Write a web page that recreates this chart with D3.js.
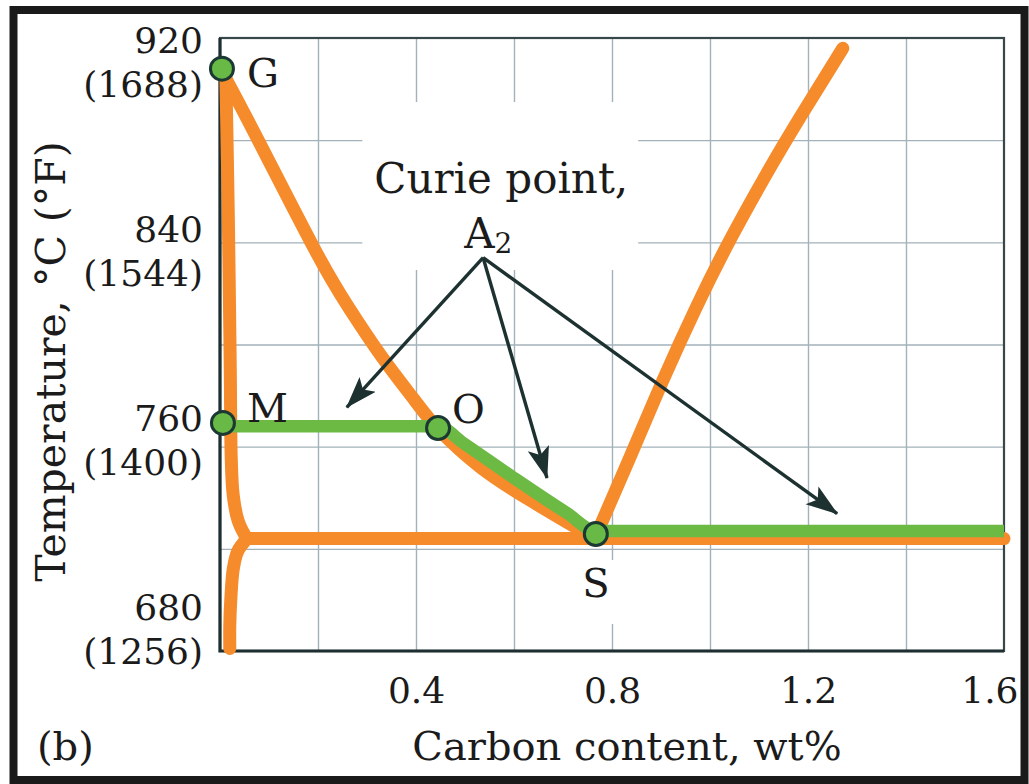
<!DOCTYPE html>
<html>
<head>
<meta charset="utf-8">
<script src="https://cdn.jsdelivr.net/npm/d3@7"></script>
<style>
  body { margin: 0; background: #fff; }
  svg { display: block; font-family: "DejaVu Serif", serif; }
  .grid line { stroke: #a3b2ba; stroke-width: 1.4; }
  .grid path { display: none; }
  .x-labels path, .x-labels line { display: none; }
</style>
</head>
<body>
<svg id="chart"></svg>
<script>
// grid values
const carbonGrid = [0.2, 0.4, 0.6, 0.8, 1.0, 1.2, 1.4];
const tempGrid = [880, 840, 800, 760, 720];
const carbonTicks = [0.4, 0.8, 1.2, 1.6];
const tempTicksC = [920, 840, 760, 680];
const tempTicksF = ['(1688)', '(1544)', '(1400)', '(1256)'];

// phase boundaries, [wt% C, temp °C]
const gsLine = [[0.004, 907], [0.078, 880], [0.194, 837], [0.261, 815], [0.331, 795],
  [0.398, 778], [0.445, 767], [0.531, 752], [0.633, 739], [0.735, 727.5], [0.767, 725]];
const gpLine = [[0.012, 905], [0.017, 850], [0.021, 790], [0.023, 755], [0.027, 741], [0.037, 731], [0.055, 724]];
const pqLine = [[0.055, 724], [0.036, 719], [0.027, 712], [0.022, 700], [0.02, 690], [0.02, 681]];
const eutectoidLine = [[0.055, 724], [1.6, 724]];
const seLine = [[0.767, 725], [0.837, 756], [0.904, 786], [0.973, 815], [1.041, 841], [1.116, 867], [1.184, 889], [1.271, 916]];
const curieLine = [[0, 768], [0.445, 768], [0.496, 761.5], [0.598, 748], [0.708, 734], [0.767, 727], [1.6, 727]];

const pointNames = ['G', 'M', 'O', 'S'];
const pointCarbon = [0.004, 0.006, 0.445, 0.767];
const pointTemp = [908, 769.3, 767.3, 725.8];

// Curie point annotation
const curieText = ['Curie point,', 'A'];
const curieAnchor = [0.574, 859.3];
const arrowStart = [0.537, 834];
const arrowTips = [[0.245, 772.5], [0.673, 744], [1.276, 731.5]];

class PhaseDiagram {

    constructor(_config) {
        this.config = {
            parentElement: _config.parentElement,
            containerWidth: _config.containerWidth || 1029,
            containerHeight: _config.containerHeight || 784,
            margin: {top: 38, right: 25, bottom: 133, left: 220}
        }
        this.initVis();
    }

    initVis() {
        let vis = this;

        vis.width = vis.config.containerWidth - vis.config.margin.left - vis.config.margin.right;
        vis.height = vis.config.containerHeight - vis.config.margin.top - vis.config.margin.bottom;

        vis.svg = d3.select(vis.config.parentElement)
            .attr('width', vis.config.containerWidth)
            .attr('height', vis.config.containerHeight);

        // outer black frame
        vis.svg.append('rect')
            .attr('x', 13.5).attr('y', 10)
            .attr('width', vis.config.containerWidth - 18)
            .attr('height', vis.config.containerHeight - 14)
            .attr('fill', '#fff')
            .attr('stroke', '#1a1a1a')
            .attr('stroke-width', 8);

        vis.chart = vis.svg.append('g')
            .attr('transform', `translate(${vis.config.margin.left}, ${vis.config.margin.top})`);

        // layers so backings sit between grid and marks
        vis.gridLayer = vis.chart.append('g');
        vis.backLayer = vis.chart.append('g');
        vis.markLayer = vis.chart.append('g');
        vis.topLayer = vis.chart.append('g');

        vis.xScale = d3.scaleLinear().domain([0, 1.6]).range([0, vis.width]);
        vis.yScale = d3.scaleLinear().domain([680, 920]).range([vis.height, 0]);
        // the two-line temperature labels are spread a bit differently than the grid
        vis.labelScale = d3.scaleLinear().domain([920, 680]).range([15, vis.height - 31]);

        vis.renderVis();
    }

    renderVis() {
        let vis = this;

        // grid
        vis.gridLayer.append('g')
            .attr('class', 'grid')
            .attr('transform', `translate(0,${vis.height})`)
            .call(d3.axisBottom(vis.xScale).tickValues(carbonGrid).tickSize(-vis.height).tickFormat(''));
        vis.gridLayer.append('g')
            .attr('class', 'grid')
            .call(d3.axisLeft(vis.yScale).tickValues(tempGrid).tickSize(-vis.width).tickFormat(''));

        // plot frame
        vis.backLayer.append('rect')
            .attr('width', vis.width).attr('height', vis.height)
            .attr('fill', 'none').attr('stroke', '#37474a').attr('stroke-width', 2.2);
        vis.backLayer.append('path')
            .attr('d', `M0,0V${vis.height}H${vis.width}`)
            .attr('fill', 'none').attr('stroke', '#1d2f30').attr('stroke-width', 3.2);

        // x tick labels
        let xl = vis.chart.append('g')
            .attr('class', 'x-labels')
            .attr('transform', `translate(0,${vis.height})`)
            .call(d3.axisBottom(vis.xScale).tickValues(carbonTicks).tickSize(0).tickPadding(24).tickFormat(d3.format('.1f')));
        xl.selectAll('text')
            .attr('font-family', '"DejaVu Serif", serif')
            .attr('font-size', 36)
            .attr('fill', '#1b1b1b')
            .attr('dy', '0.78em');
        xl.selectAll('.tick').filter(d => d === 1.6).select('text')
            .attr('text-anchor', 'end')
            .attr('x', 14);

        // y tick labels, °C over (°F)
        let yl = vis.chart.append('g').attr('class', 'y-labels');
        tempTicksC.forEach((t, i) => {
            let g = yl.append('text')
                .attr('text-anchor', 'end')
                .attr('font-size', 36)
                .attr('fill', '#1b1b1b');
            g.append('tspan').attr('x', -17).attr('y', vis.labelScale(t)).text(t);
            g.append('tspan').attr('x', -17).attr('y', vis.labelScale(t) + 44).text(tempTicksF[i]);
        });

        // axis titles
        vis.chart.append('text')
            .attr('transform', `translate(-155,${vis.height / 2 + 17}) rotate(-90)`)
            .attr('text-anchor', 'middle')
            .attr('font-size', 41)
            .attr('fill', '#1b1b1b')
            .text('Temperature, °C (°F)');
        vis.chart.append('text')
            .attr('x', 407).attr('y', vis.height + 109)
            .attr('text-anchor', 'middle')
            .attr('font-size', 40)
            .attr('fill', '#1b1b1b')
            .text('Carbon content, wt%');
        vis.chart.append('text')
            .attr('x', -183).attr('y', vis.height + 109)
            .attr('font-size', 40)
            .attr('fill', '#1b1b1b')
            .text('(b)');

        // Curie point annotation (white backing hides the grid)
        let noteBg = vis.backLayer.append('rect').attr('fill', '#fff');
        let noteText = vis.topLayer.append('text')
            .attr('text-anchor', 'middle')
            .attr('font-size', 42)
            .attr('fill', '#1b1b1b');
        noteText.append('tspan')
            .attr('x', vis.xScale(curieAnchor[0])).attr('y', vis.yScale(curieAnchor[1]))
            .text(curieText[0]);
        noteText.append('tspan')
            .attr('x', vis.xScale(curieAnchor[0]) - 13).attr('y', vis.yScale(curieAnchor[1]) + 55)
            .text(curieText[1]);
        noteText.append('tspan')
            .attr('font-size', 28).attr('dy', 5)
            .text('2');
        let bb = noteText.node().getBBox();
        noteBg.attr('x', bb.x - 12).attr('y', bb.y - 52)
            .attr('width', bb.width + 22).attr('height', bb.height + 62);

        let line = d3.line()
            .x(d => vis.xScale(d[0]))
            .y(d => vis.yScale(d[1]));

        // orange phase boundaries
        const orangeLines = [
            [gpLine, d3.curveCatmullRom.alpha(0.5)],
            [pqLine, d3.curveCatmullRom.alpha(0.5)],
            [eutectoidLine, d3.curveLinear],
            [gsLine, d3.curveNatural],
            [seLine, d3.curveNatural]
        ];
        orangeLines.forEach(([pts, curve]) => {
            vis.markLayer.append('path')
                .datum(pts)
                .attr('d', line.curve(curve))
                .attr('fill', 'none').attr('stroke', '#f68b2c')
                .attr('stroke-width', 13).attr('stroke-linecap', 'round').attr('stroke-linejoin', 'round');
        });

        // green Curie line
        vis.markLayer.append('path')
            .datum(curieLine)
            .attr('d', line.curve(d3.curveMonotoneX))
            .attr('fill', 'none').attr('stroke', '#6cb944')
            .attr('stroke-width', 12.5).attr('stroke-linejoin', 'round');

        // arrows
        vis.svg.append('defs').append('marker')
            .attr('id', 'head')
            .attr('markerUnits', 'userSpaceOnUse')
            .attr('viewBox', '0 0 32 24')
            .attr('markerWidth', 32).attr('markerHeight', 24)
            .attr('refX', 31).attr('refY', 12)
            .attr('orient', 'auto')
            .append('path')
            .attr('d', 'M0,1L32,12L0,23L7,12Z')
            .attr('fill', '#1c3130');
        arrowTips.forEach(t => {
            let x0 = vis.xScale(arrowStart[0]), y0 = vis.yScale(arrowStart[1]);
            let x1 = vis.xScale(t[0]), y1 = vis.yScale(t[1]);
            let len = Math.hypot(x1 - x0, y1 - y0);
            vis.topLayer.append('line')
                .attr('x1', x0).attr('y1', y0)
                .attr('x2', x0 + (x1 - x0) * (len - 10) / len)
                .attr('y2', y0 + (y1 - y0) * (len - 10) / len)
                .attr('stroke', '#1c3130').attr('stroke-width', 3.4)
                .attr('marker-end', 'url(#head)');
        });

        // key points and their letters
        const labelOffset = {G: [25, 18, 'start'], M: [24, -1, 'start'], O: [14, -5, 'start'], S: [0, 63, 'middle']};
        pointNames.forEach((n, i) => {
            let px = vis.xScale(pointCarbon[i]), py = vis.yScale(pointTemp[i]);
            vis.topLayer.append('circle')
                .attr('cx', px).attr('cy', py).attr('r', 11.5)
                .attr('fill', '#68b945').attr('stroke', '#1b3832').attr('stroke-width', 3);
            let o = labelOffset[n];
            let lbl = vis.topLayer.append('text')
                .attr('x', px + o[0]).attr('y', py + o[1])
                .attr('text-anchor', o[2])
                .attr('font-size', 40)
                .attr('fill', '#1b1b1b')
                .text(n);
            if (n === 'S') {
                let b = lbl.node().getBBox();
                vis.backLayer.append('rect')
                    .attr('x', b.x - 5).attr('y', b.y).attr('width', b.width + 10).attr('height', b.height + 18)
                    .attr('fill', '#fff');
            }
        });
    }
}

let diagram = new PhaseDiagram({parentElement: '#chart'});
</script>
</body>
</html>
